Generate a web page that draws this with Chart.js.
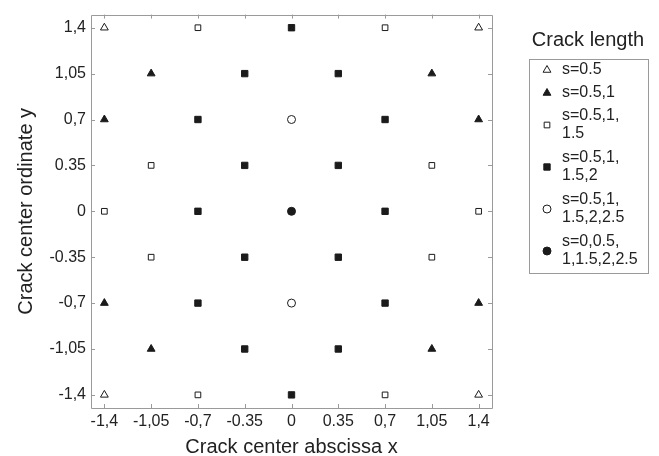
<!DOCTYPE html>
<html>
<head>
<meta charset="utf-8">
<script src="https://cdn.jsdelivr.net/npm/chart.js@4.4.1/dist/chart.umd.min.js"></script>
<style>
html,body{margin:0;padding:0;background:#fff;}
#wrap{width:659px;height:456px;position:relative;}
</style>
</head>
<body>
<div id="wrap"><canvas id="c" width="659" height="456"></canvas></div>
<script>
// Tick values and their printed labels
const tickValues = [-1.4, -1.05, -0.7, -0.35, 0, 0.35, 0.7, 1.05, 1.4];
const xTickLabels = ["-1,4", "-1,05", "-0,7", "-0.35", "0", "0.35", "0,7", "1,05", "1,4"];
const yTickLabels = ["-1,4", "-1,05", "-0,7", "-0.35", "0", "0.35", "0,7", "1,05", "1,4"];

// Series names (legend)
const seriesNames = [
  ["s=0.5"],
  ["s=0.5,1"],
  ["s=0.5,1,", "1.5"],
  ["s=0.5,1,", "1.5,2"],
  ["s=0.5,1,", "1.5,2,2.5"],
  ["s=0,0.5,", "1,1.5,2,2.5"]
];

// Series 1: s=0.5 (open triangles)
const s1x = [-1.4, 1.4, -1.4, 1.4];
const s1y = [1.4, 1.4, -1.4, -1.4];
// Series 2: s=0.5,1 (filled triangles)
const s2x = [-1.05, 1.05, -1.4, 1.4, -1.4, 1.4, -1.05, 1.05];
const s2y = [1.05, 1.05, 0.7, 0.7, -0.7, -0.7, -1.05, -1.05];
// Series 3: s=0.5,1,1.5 (open squares)
const s3x = [-0.7, 0.7, -1.05, 1.05, -1.4, 1.4, -1.05, 1.05, -0.7, 0.7];
const s3y = [1.4, 1.4, 0.35, 0.35, 0, 0, -0.35, -0.35, -1.4, -1.4];
// Series 4: s=0.5,1,1.5,2 (filled squares)
const s4x = [0, -0.35, 0.35, -0.7, 0.7, -0.35, 0.35, -0.7, 0.7, -0.35, 0.35, -0.7, 0.7, -0.35, 0.35, 0];
const s4y = [1.4, 1.05, 1.05, 0.7, 0.7, 0.35, 0.35, 0, 0, -0.35, -0.35, -0.7, -0.7, -1.05, -1.05, -1.4];
// Series 5: s=0.5,1,1.5,2,2.5 (open circles)
const s5x = [0, 0];
const s5y = [0.7, -0.7];
// Series 6: s=0,0.5,1,1.5,2,2.5 (filled circle)
const s6x = [0];
const s6y = [0];

const seriesX = [s1x, s2x, s3x, s4x, s5x, s6x];
const seriesY = [s1y, s2y, s3y, s4y, s5y, s6y];

const INK = '#1b1b1b';
const FONT = '"Liberation Sans", Arial, sans-serif';
const styles = [
  {ps:'triangle', r:4.5, fill:'#ffffff'},
  {ps:'triangle', r:4.5, fill:INK},
  {ps:'rect', r:4, fill:'#ffffff'},
  {ps:'rect', r:4.5, fill:INK},
  {ps:'circle', r:4, fill:'#ffffff'},
  {ps:'circle', r:4, fill:INK}
];

const datasets = seriesX.map((xs, i) => ({
  label: seriesNames[i].join(' '),
  data: xs.map((x, j) => ({x: x, y: seriesY[i][j]})),
  pointStyle: styles[i].ps,
  pointRadius: styles[i].r,
  pointHoverRadius: styles[i].r,
  pointBackgroundColor: styles[i].fill,
  pointBorderColor: INK,
  pointBorderWidth: 1,
  showLine: false
}));

function drawMarker(ctx, ps, r, x, y, fill) {
  ctx.save();
  ctx.fillStyle = fill;
  ctx.strokeStyle = INK;
  ctx.lineWidth = 1;
  ctx.beginPath();
  if (ps === 'triangle') {
    let a = 0;
    ctx.moveTo(x + Math.sin(a) * r, y - Math.cos(a) * r);
    a += 2 * Math.PI / 3;
    ctx.lineTo(x + Math.sin(a) * r, y - Math.cos(a) * r);
    a += 2 * Math.PI / 3;
    ctx.lineTo(x + Math.sin(a) * r, y - Math.cos(a) * r);
    ctx.closePath();
  } else if (ps === 'rect') {
    const s = r * Math.SQRT1_2;
    ctx.rect(x - s, y - s, 2 * s, 2 * s);
  } else {
    ctx.arc(x, y, r, 0, Math.PI * 2);
  }
  ctx.fill();
  ctx.stroke();
  ctx.restore();
}

const framePlugin = {
  id: 'frame',
  afterDatasetsDraw(chart) {
    const {ctx, chartArea: a, scales} = chart;
    ctx.save();
    ctx.strokeStyle = '#9a9a9a';
    ctx.lineWidth = 1;
    ctx.beginPath();
    ctx.rect(Math.round(a.left) + 0.5, Math.round(a.top) + 0.5, Math.round(a.right - a.left), Math.round(a.bottom - a.top));
    ctx.stroke();
    const tl = 4;
    ctx.beginPath();
    tickValues.forEach(v => {
      const px = Math.round(scales.x.getPixelForValue(v)) + 0.5;
      ctx.moveTo(px, a.bottom); ctx.lineTo(px, a.bottom - tl);
      ctx.moveTo(px, a.top); ctx.lineTo(px, a.top + tl);
      const py = Math.round(scales.y.getPixelForValue(v)) + 0.5;
      ctx.moveTo(a.left, py); ctx.lineTo(a.left + tl, py);
      ctx.moveTo(a.right, py); ctx.lineTo(a.right - tl, py);
    });
    ctx.stroke();
    ctx.restore();
  },
  afterDraw(chart) {
    const ctx = chart.ctx;
    ctx.save();
    ctx.fillStyle = '#222';
    ctx.font = '20px ' + FONT;
    ctx.textAlign = 'center';
    ctx.textBaseline = 'middle';
    ctx.fillText('Crack length', 588, 40);
    ctx.strokeStyle = '#9a9a9a';
    ctx.lineWidth = 1;
    ctx.strokeRect(529.5, 59.5, 119, 214);
    ctx.font = '16px ' + FONT;
    ctx.textAlign = 'left';
    const rows = [
      {m:70, lines:[70]},
      {m:93, lines:[93]},
      {m:125, lines:[116, 134]},
      {m:167, lines:[158, 176]},
      {m:209, lines:[200, 218]},
      {m:251, lines:[242, 260]}
    ];
    rows.forEach((row, i) => {
      drawMarker(ctx, styles[i].ps, styles[i].r, 547, row.m, styles[i].fill);
      seriesNames[i].forEach((t, k) => {
        ctx.fillStyle = '#222';
        ctx.fillText(t, 562, row.lines[k]);
      });
    });
    ctx.restore();
  }
};

new Chart(document.getElementById('c'), {
  type: 'scatter',
  data: {datasets},
  options: {
    responsive: false,
    animation: false,
    devicePixelRatio: 1,
    layout: {padding: {top: 14, right: 167, left: 0, bottom: 0}},
    plugins: {legend: {display: false}, tooltip: {enabled: false}},
    scales: {
      x: {
        type: 'linear', min: -1.5, max: 1.5,
        afterFit(s) { s.height = 48; },
        afterBuildTicks(s) { s.ticks = tickValues.map(v => ({value: v})); },
        grid: {display: false, drawTicks: false},
        border: {display: false},
        ticks: {
          autoSkip: false, maxRotation: 0, padding: 4, color: '#222',
          font: {family: FONT, size: 16},
          callback: (v) => { const i = tickValues.findIndex(t => Math.abs(t - v) < 1e-9); return i >= 0 ? xTickLabels[i] : ''; }
        },
        title: {display: true, text: 'Crack center abscissa x', color: '#222',
          font: {family: FONT, size: 20}, padding: {top: 0, bottom: -3}}
      },
      y: {
        type: 'linear', min: -1.5, max: 1.5,
        afterFit(s) { s.width = 91; },
        afterBuildTicks(s) { s.ticks = tickValues.map(v => ({value: v})); },
        grid: {display: false, drawTicks: false},
        border: {display: false},
        ticks: {
          autoSkip: false, padding: 5, color: '#222',
          font: {family: FONT, size: 16},
          callback: (v) => { const i = tickValues.findIndex(t => Math.abs(t - v) < 1e-9); return i >= 0 ? yTickLabels[i] : ''; }
        },
        title: {display: true, text: 'Crack center ordinate y', color: '#222',
          font: {family: FONT, size: 20}, padding: {top: 14, bottom: 0}}
      }
    }
  },
  plugins: [framePlugin]
});
</script>
</body>
</html>
